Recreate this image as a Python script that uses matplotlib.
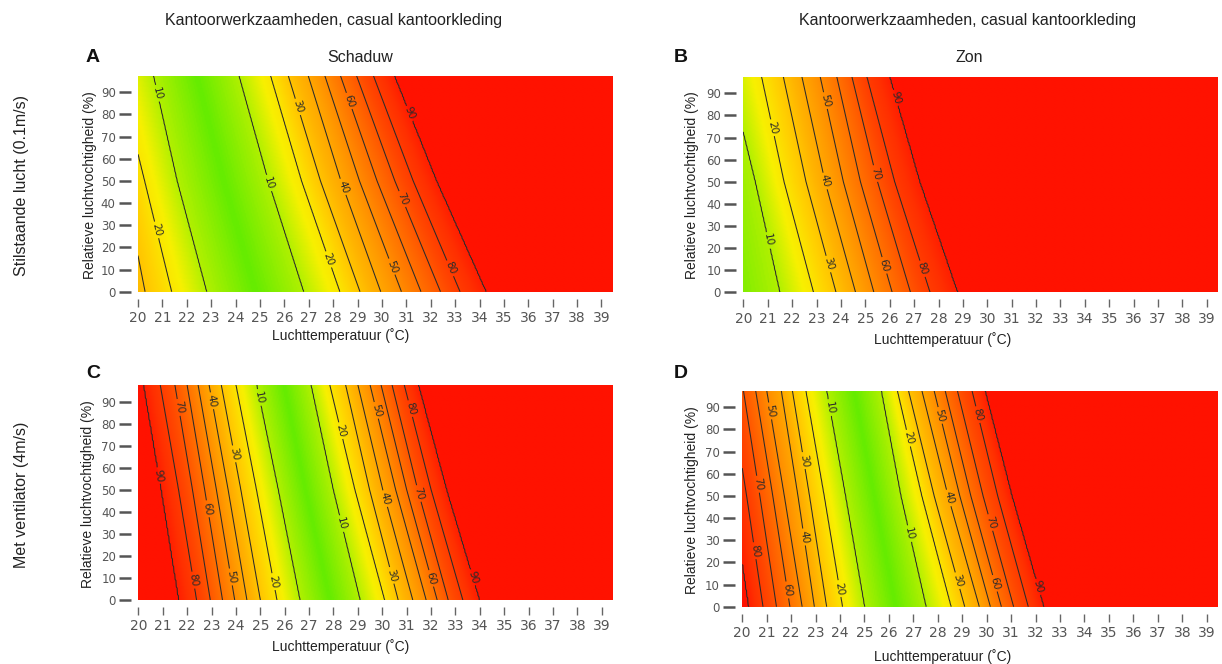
import numpy as np
import matplotlib
matplotlib.use("Agg")
import matplotlib.pyplot as plt
from matplotlib.colors import LinearSegmentedColormap, Normalize

# assen
temp_ticks = list(range(20, 40))
rh_ticks = list(range(0, 100, 10))
t_max = 39.47
rh_max = 97.5

rh_rows = [0, 50, 97.5]
contour_levels = [10, 20, 30, 40, 50, 60, 70, 80, 90]

# A - schaduw, stilstaande lucht: PPD-waarden van links naar rechts en de temperatuur waar ze liggen
a_ppd = [40, 30, 20, 10, 5, 10, 20, 30, 40, 50, 60, 70, 80, 90]
a_t0 = [19.4, 20.29, 21.38, 22.81, 24.8, 26.8, 28.28, 29.1, 29.95, 30.8, 31.6, 32.4, 33.2, 34.29]
a_t50 = [18.5, 19.4, 20.27, 21.6, 23.5, 25.35, 26.71, 27.48, 28.32, 29.08, 29.8, 30.53, 31.28, 32.26]
a_t97 = [17.5, 18.5, 19.2, 20.63, 22.4, 24.15, 25.44, 26.16, 26.98, 27.66, 28.3, 28.96, 29.65, 30.53]

# B - zon, stilstaande lucht
b_ppd = [5, 10, 20, 30, 40, 50, 60, 70, 80, 90]
b_t0 = [19.0, 21.51, 22.88, 23.8, 24.6, 25.35, 26.1, 26.85, 27.65, 28.8]
b_t50 = [18.3, 20.5, 21.67, 22.57, 23.35, 24.1, 24.8, 25.5, 26.2, 27.25]
b_t97 = [17.5, 19.45, 20.75, 21.64, 22.4, 23.15, 23.83, 24.45, 25.06, 26.02]

# C - schaduw, ventilator
c_ppd = [90, 80, 70, 60, 50, 40, 30, 20, 10, 5, 10, 20, 30, 40, 50, 60, 70, 80, 90]
c_t0 = [21.64, 22.39, 22.95, 23.45, 23.95, 24.45, 25.0, 25.68, 26.62, 27.86,
        29.1, 30.1, 30.65, 31.25, 31.8, 32.25, 32.7, 33.3, 34.0]
c_t50 = [20.92, 21.65, 22.22, 22.72, 23.2, 23.68, 24.2, 24.84, 25.73, 26.85,
         28.0, 28.88, 29.48, 30.02, 30.55, 31.0, 31.45, 32.0, 32.65]
c_t97 = [20.2, 20.9, 21.5, 22.0, 22.45, 22.9, 23.4, 24.0, 24.85, 25.97,
         27.09, 27.85, 28.5, 29.0, 29.5, 29.95, 30.4, 30.9, 31.5]

# D - zon, ventilator
d_ppd = [90, 80, 70, 60, 50, 40, 30, 20, 10, 5, 10, 20, 30, 40, 50, 60, 70, 80, 90]
d_t0 = [20.25, 20.85, 21.4, 21.95, 22.45, 22.95, 23.45, 24.1, 25.0, 26.27,
        27.53, 28.55, 29.1, 29.7, 30.15, 30.6, 31.1, 31.7, 32.35]
d_t50 = [19.58, 20.18, 20.72, 21.25, 21.72, 22.28, 22.75, 23.35, 24.22, 25.4,
         26.5, 27.35, 27.85, 28.42, 28.9, 29.35, 29.85, 30.45, 31.05]
d_t97 = [18.9, 19.5, 20.05, 20.55, 21.0, 21.6, 22.05, 22.6, 23.45, 24.58,
         25.7, 26.35, 26.8, 27.35, 27.85, 28.3, 28.8, 29.4, 29.95]

# plek van de lijnlabels (temp, RH)
a_labels = [(20.77, 89.5), (20.72, 27.8), (25.34, 49), (27.73, 14.3), (26.57, 83.5), (28.55, 85.7),
            (28.42, 47.4), (30.74, 41.4), (31.15, 80.5), (30.4, 11.3), (32.79, 10.5)]
b_labels = [(21.23, 74.5), (21.03, 23.5), (23.28, 86.5), (23.42, 50.5), (23.56, 13.0), (26.3, 88),
            (25.34, 53.5), (25.81, 12.3), (27.39, 10.8)]
c_labels = [(21.64, 87.3), (23.0, 90.3), (24.91, 91.8), (20.82, 56.4), (23.89, 66.2), (22.87, 41.4),
            (22.25, 9.0), (23.82, 10.5), (25.52, 8.3), (28.25, 76.7), (28.32, 34.6), (29.68, 85.8),
            (31.05, 86.5), (30.09, 45.9), (31.46, 48.2), (30.43, 11.3), (32.0, 9.8), (33.78, 10.5)]
d_labels = [(21.06, 88.2), (23.51, 89.7), (22.42, 65.8), (20.65, 55.3), (22.49, 31.4), (20.59, 25.4),
            (21.81, 7.5), (24.0, 8.2), (26.85, 76.2), (26.78, 32.9), (28.21, 86.7), (28.55, 49.4),
            (28.89, 12.0), (29.63, 86.7), (30.18, 38.1), (30.31, 10.5), (32.15, 9.0)]

ppd_stops = [5, 10, 17, 25, 35, 45, 55, 65, 75, 85, 90, 91]
ppd_colors = ["#66ec00", "#b4f000", "#f8f000", "#ffd400", "#ffb400", "#ff9a00",
              "#ff7e00", "#ff6400", "#ff4800", "#ff3000", "#ff1e00", "#ff1200"]
ppd_cmap = LinearSegmentedColormap.from_list(
    "ppd", [((v - 5) / 86, c) for v, c in zip(ppd_stops, ppd_colors)])
norm = Normalize(vmin=5, vmax=91)

tgrid = np.linspace(20, t_max, 400)
rhgrid = np.linspace(0, rh_max, 200)


def make_field(ppd, t0, t50, t97):
    rows = np.array([t0, t50, t97])
    z = np.empty((len(rhgrid), len(tgrid)))
    for i, rh in enumerate(rhgrid):
        cross = [np.interp(rh, rh_rows, rows[:, k]) for k in range(rows.shape[1])]
        # net buiten de laatste lijn iets hoger, anders valt de 90-lijn weg
        z[i] = np.interp(tgrid, cross, ppd, left=ppd[0] + 1, right=ppd[-1] + 1)
    return z


fig = plt.figure(figsize=(12.22, 6.64), dpi=100)

panels = [
    ([0.1129, 0.5607, 0.3887, 0.3253], a_ppd, a_t0, a_t50, a_t97, a_labels),
    ([0.6083, 0.5598, 0.3887, 0.3247], b_ppd, b_t0, b_t50, b_t97, b_labels),
    ([0.1132, 0.0964, 0.3887, 0.3238], c_ppd, c_t0, c_t50, c_t97, c_labels),
    ([0.6074, 0.0863, 0.3895, 0.3253], d_ppd, d_t0, d_t50, d_t97, d_labels),
]

for rect, ppd, t0, t50, t97, lab in panels:
    ax = fig.add_axes(rect)
    z = make_field(ppd, t0, t50, t97)
    ax.imshow(z, extent=(20, t_max, 0, rh_max), origin="lower", aspect="auto",
              cmap=ppd_cmap, norm=norm, interpolation="bilinear")
    cs = ax.contour(tgrid, rhgrid, z, levels=contour_levels, colors="#2b2b2b", linewidths=0.75)
    ax.clabel(cs, fmt="%d", fontsize=7.5, inline=True, inline_spacing=2, manual=lab)
    ax.set_xlim(20, t_max)
    ax.set_ylim(0, rh_max)
    for s in ax.spines.values():
        s.set_visible(False)
    ax.spines["bottom"].set_position(("outward", 5))
    ax.spines["left"].set_position(("outward", 5))
    ax.set_xticks(temp_ticks)
    ax.set_yticks(rh_ticks)
    ax.tick_params(axis="x", length=6, width=1.0, color="#666666", labelsize=10,
                   labelcolor="#555555", pad=3)
    ax.tick_params(axis="y", length=9, width=1.8, color="#555555", labelsize=8.5,
                   labelcolor="#555555", pad=2)
    for t in ax.get_xticklabels() + ax.get_yticklabels():
        t.set_family("DejaVu Sans")

lab_font = dict(family="Liberation Sans", color="#222222")

# kolomtitels
for xc in (334 / 1222, 968 / 1222):
    fig.text(xc, 1 - 21 / 664, "Kantoorwerkzaamheden, casual kantoorkleding",
             ha="center", va="center", fontsize=11.5, **lab_font)
fig.text(360 / 1222, 1 - 57 / 664, "Schaduw", ha="center", va="center", fontsize=11.5, **lab_font)
fig.text(969 / 1222, 1 - 57 / 664, "Zon", ha="center", va="center", fontsize=11.5, **lab_font)

for letter, x, y in (("A", 93, 58), ("B", 681, 58), ("C", 93, 373), ("D", 681, 373)):
    fig.text(x / 1222, 1 - y / 664, letter, ha="center", va="center", fontsize=14,
             fontweight="bold", family="Liberation Sans", color="#111111")

fig.text(22 / 1222, 1 - 185 / 664, "Stilstaande lucht (0.1m/s)", rotation=90,
         ha="center", va="center", fontsize=11.5, **lab_font)
fig.text(22 / 1222, 1 - 495 / 664, "Met ventilator (4m/s)", rotation=90,
         ha="center", va="center", fontsize=11.5, **lab_font)

# aslabels
for x, y in ((341, 336), (943, 340), (341, 647), (943, 657)):
    fig.text(x / 1222, 1 - y / 664, "Luchttemperatuur (˚C)", ha="center", va="center",
             fontsize=10, **lab_font)
for x, y in ((90, 185), (692, 185), (88, 494), (692, 500)):
    fig.text(x / 1222, 1 - y / 664, "Relatieve luchtvochtigheid (%)", rotation=90,
             ha="center", va="center", fontsize=10, **lab_font)

fig.savefig("out.png", dpi=100)
